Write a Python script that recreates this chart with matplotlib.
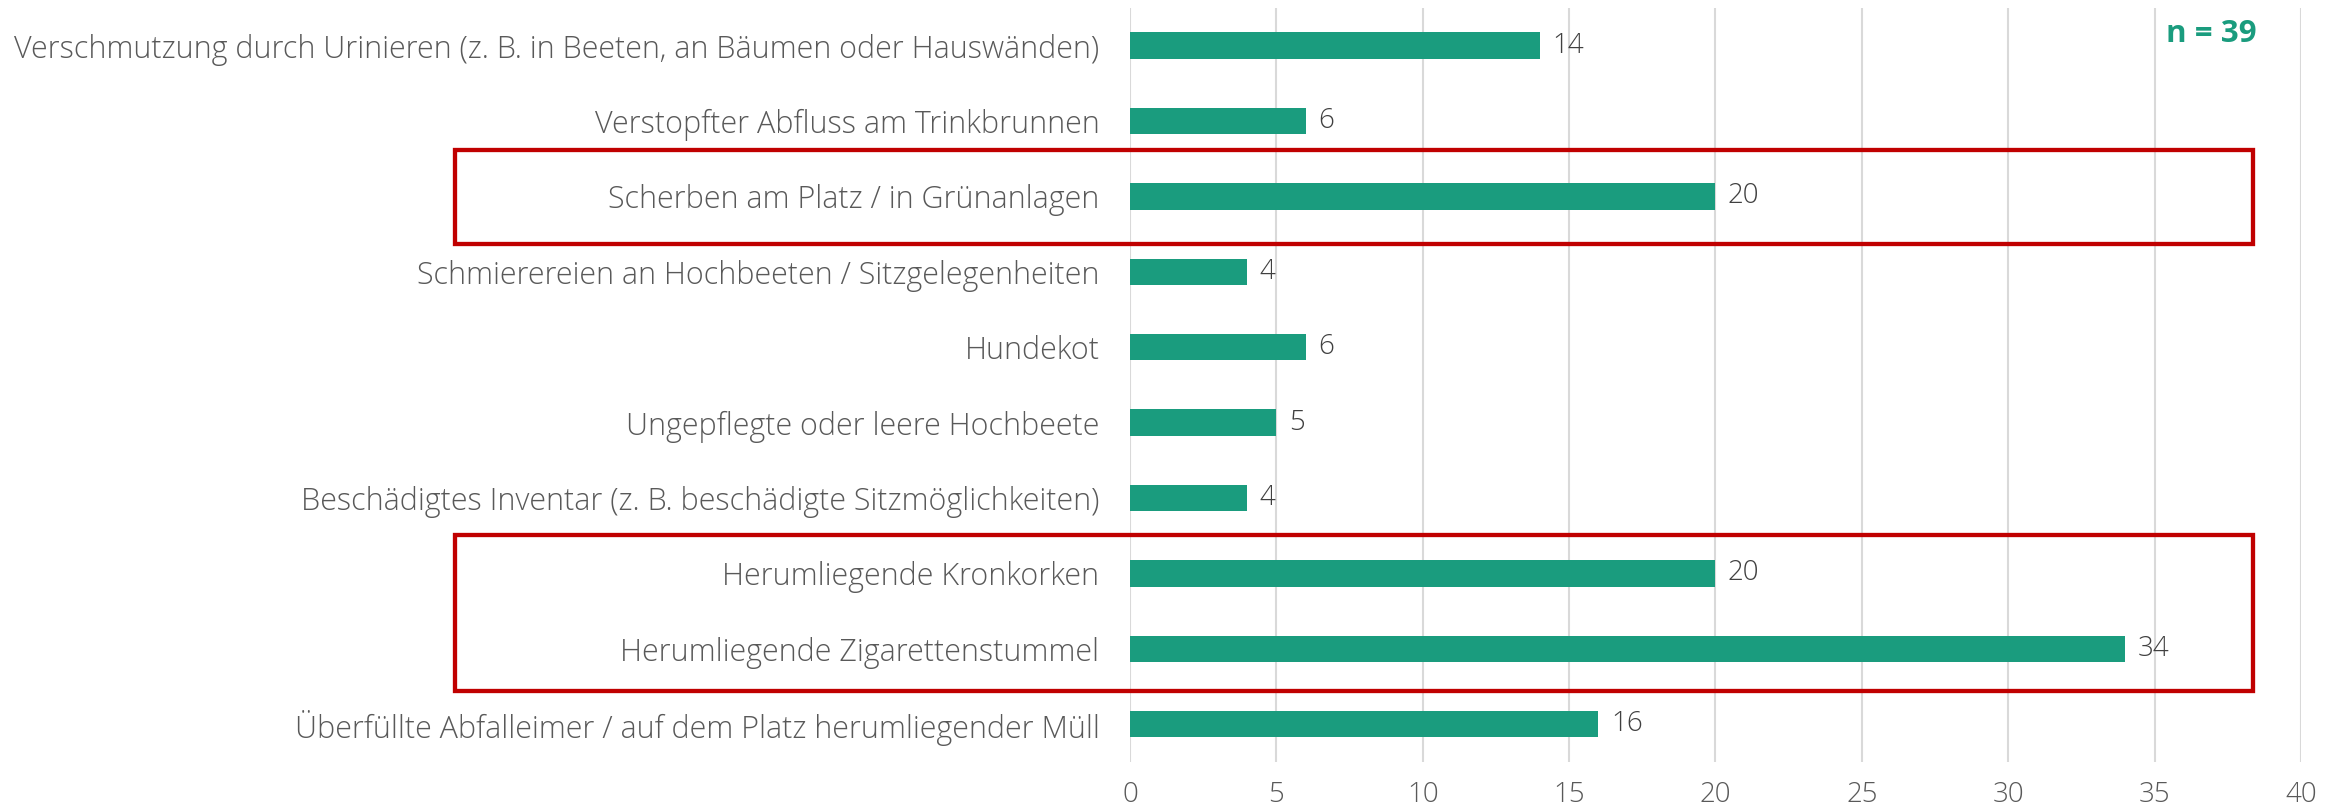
import matplotlib
matplotlib.use("Agg")
import matplotlib.pyplot as plt
from matplotlib.patches import Rectangle
import matplotlib.transforms as mtransforms

plt.rcParams['font.family'] = ['Open Sans', 'DejaVu Sans']

# Daten (von oben nach unten)
categories = [
    "Verschmutzung durch Urinieren (z. B. in Beeten, an Bäumen oder Hauswänden)",
    "Verstopfter Abfluss am Trinkbrunnen",
    "Scherben am Platz / in Grünanlagen",
    "Schmierereien an Hochbeeten / Sitzgelegenheiten",
    "Hundekot",
    "Ungepflegte oder leere Hochbeete",
    "Beschädigtes Inventar (z. B. beschädigte Sitzmöglichkeiten)",
    "Herumliegende Kronkorken",
    "Herumliegende Zigarettenstummel",
    "Überfüllte Abfalleimer / auf dem Platz herumliegender Müll",
]
values = [14, 6, 20, 4, 6, 5, 4, 20, 34, 16]
x_ticks = [0, 5, 10, 15, 20, 25, 30, 35, 40]
n_label = "n = 39"
# hervorgehobene Gruppen: erster / letzter Index
highlight_groups = [(2, 2), (7, 8)]

GREEN = "#1a9c7e"
RED = "#c00000"
TEXT = "#595959"
VALUE_TEXT = "#404040"
GRID = "#d9d9d9"

fig = plt.figure(figsize=(23.41, 8.06), dpi=100)
ax = fig.add_axes([0.4827, 0.0546, 0.5002, 0.9355])

y = list(range(len(categories)))
ax.barh(y, values, height=0.35, color=GREEN, zorder=3)
ax.set_ylim(len(categories) - 0.5, -0.5)
ax.set_xlim(0, 40)
ax.set_xticks(x_ticks)
ax.set_yticks(y)
ax.set_yticklabels(categories, fontweight='light')
ax.set_xticklabels([str(t) for t in x_ticks], fontweight='light')
ax.tick_params(axis='y', length=0, pad=22, labelsize=22, labelcolor=TEXT)
ax.tick_params(axis='x', length=0, pad=14, labelsize=20, labelcolor=TEXT)
ax.xaxis.grid(True, color=GRID, linewidth=1.5, zorder=0)
ax.set_axisbelow(True)
for s in ax.spines.values():
    s.set_visible(False)

for yi, v in zip(y, values):
    ax.annotate(str(v), (v, yi), xytext=(9, 0), textcoords='offset points',
                va='center', ha='left', fontsize=20, fontweight='light', color=VALUE_TEXT)

ax.text(0.9625, 0.985, n_label, transform=ax.transAxes, ha='right', va='top',
        fontsize=22.5, fontweight='bold', color=GREEN)

# rote Rahmen: x in Achsenanteilen, y in Datenkoordinaten
trans = mtransforms.blended_transform_factory(ax.transAxes, ax.transData)
box_pad = {(2, 2): (0.614, 0.633), (7, 8): (0.508, 0.561)}
for first, last in highlight_groups:
    pt, pb = box_pad[(first, last)]
    top = first - pt
    bottom = last + pb
    rect = Rectangle((-0.5768, top), 0.959 + 0.5768, bottom - top, transform=trans,
                     fill=False, edgecolor=RED, linewidth=3.1, clip_on=False, zorder=5)
    ax.add_patch(rect)

fig.savefig("out.png", dpi=100)
